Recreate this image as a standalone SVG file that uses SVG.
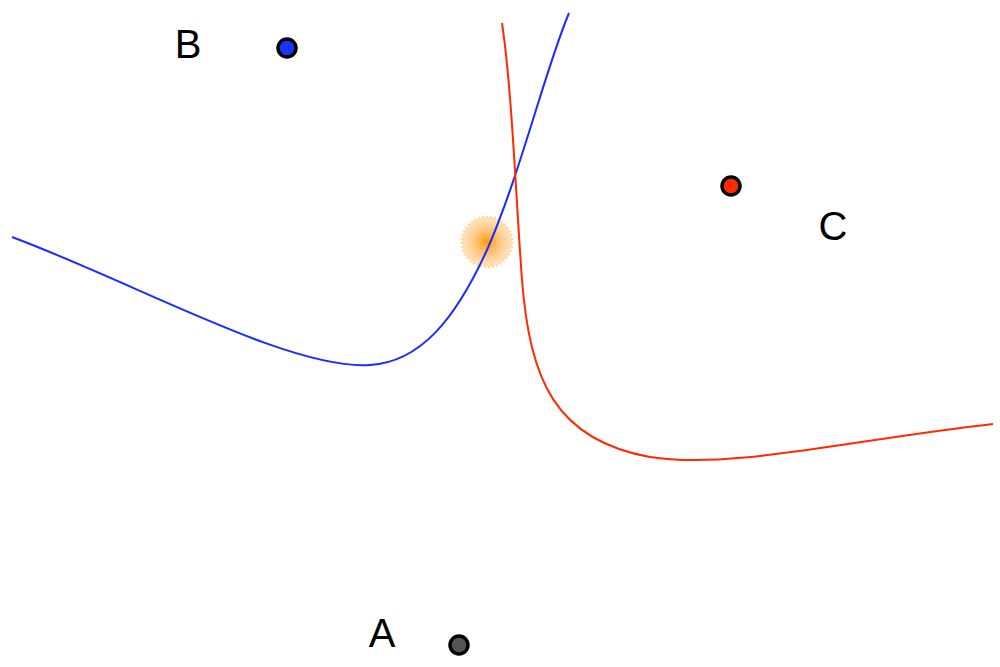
<svg xmlns="http://www.w3.org/2000/svg" width="1000" height="667" viewBox="0 0 1000 667">
<style>
.lbl{font-family:"Liberation Sans",Arial,sans-serif;font-size:40px;fill:#000;text-anchor:middle}
.pt{stroke:#000;stroke-width:3.5}
.curve{fill:none;stroke-width:2}
</style>
<defs>
<radialGradient id="glow" cx="0.5" cy="0.5" r="0.5">
<stop offset="0" stop-color="#ff9900"/>
<stop offset="0.5" stop-color="#ffb75e" stop-opacity="0.8"/>
<stop offset="1" stop-color="#ffd9a8" stop-opacity="0.7"/>
</radialGradient>
</defs>
<rect width="1000" height="667" fill="#fff"/>
<g id="glow-spot">
<circle cx="487" cy="242" r="25" fill="url(#glow)" stroke="#ffd9a0" stroke-width="3" stroke-dasharray="2 2"/>
</g>
<g id="connectors">
<path class="curve" stroke="#1a2cff" d="M12,237 C140,285 290,370 370,365 C420,362 455,320 487,250 C520,175 545,70 569,13"/>
<path class="curve" stroke="#ff2a00" d="M502,23 C512,90 516,200 522,280 C530,380 555,440 650,457 C730,470 850,440 993,424"/>
</g>
<g id="node-B">
<circle class="pt" cx="287" cy="48" r="9" fill="#1a33ff"/>
<text class="lbl" x="188" y="58">B</text>
</g>
<g id="node-C">
<circle class="pt" cx="731" cy="186" r="9" fill="#ff2a00"/>
<text class="lbl" x="833" y="240">C</text>
</g>
<g id="node-A">
<circle class="pt" cx="459" cy="645" r="9" fill="#555"/>
<text class="lbl" x="382" y="647">A</text>
</g>
</svg>
